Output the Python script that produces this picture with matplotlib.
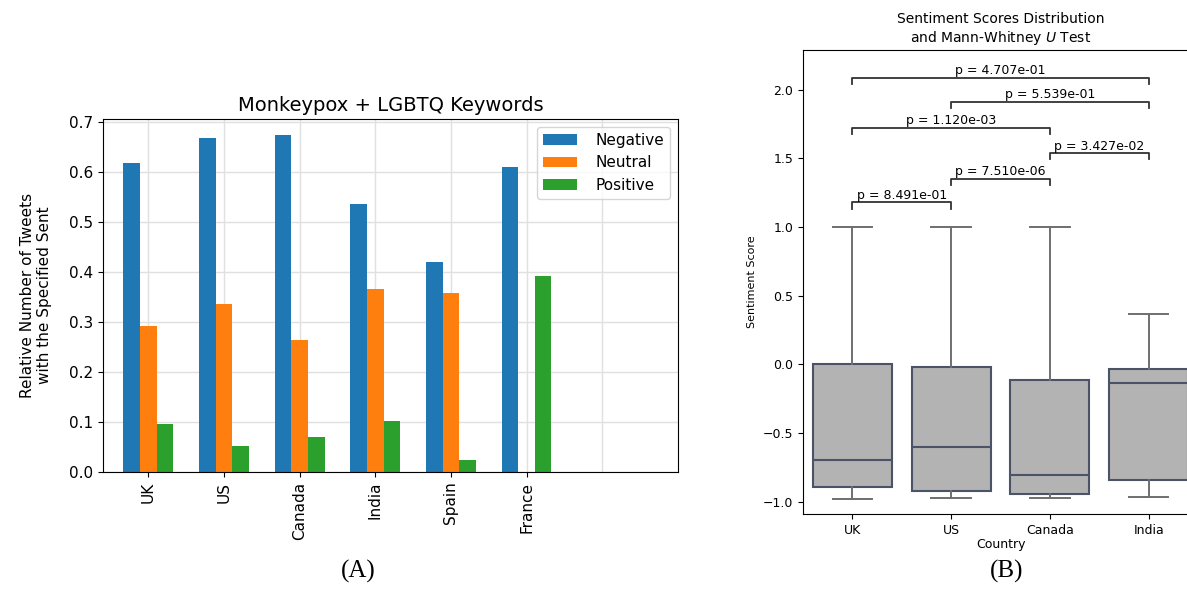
import matplotlib.pyplot as plt
import numpy as np

# panel A data
countries_a = ['UK', 'US', 'Canada', 'India', 'Spain', 'France']
negative = [0.618, 0.667, 0.673, 0.535, 0.419, 0.610]
neutral = [0.291, 0.335, 0.263, 0.366, 0.357, 0.0]
positive = [0.096, 0.052, 0.071, 0.102, 0.025, 0.392]

# panel B data (box stats)
countries_b = ['UK', 'US', 'Canada', 'India']
whislo = [-0.984, -0.977, -0.977, -0.967]
q1 = [-0.892, -0.919, -0.945, -0.841]
med = [-0.697, -0.605, -0.804, -0.139]
q3 = [0.0, -0.022, -0.114, -0.036]
whishi = [1.0, 1.0, 1.0, 0.365]

# Mann-Whitney pairs: (i, j, bracket height, label)
pairs = [(0, 1, 1.18, 'p = 8.491e-01'),
         (1, 2, 1.35, 'p = 7.510e-06'),
         (2, 3, 1.538, 'p = 3.427e-02'),
         (0, 2, 1.725, 'p = 1.120e-03'),
         (1, 3, 1.91, 'p = 5.539e-01'),
         (0, 3, 2.085, 'p = 4.707e-01')]

fig = plt.figure(figsize=(11.87, 5.92), dpi=100)

# ---- (A) grouped bars
ax1 = fig.add_axes([0.0868, 0.2027, 0.4842, 0.5963])
x = np.arange(len(countries_a))
w = 0.22
ax1.bar(x - w, negative, w, label='Negative', color='#1f77b4')
ax1.bar(x, neutral, w, label='Neutral', color='#ff7f0e')
ax1.bar(x + w, positive, w, label='Positive', color='#2ca02c')
ax1.set_xticks(x)
ax1.set_xticklabels(countries_a, rotation=90, fontsize=11)
ax1.tick_params(axis='y', labelsize=11)
ax1.set_xlim(-0.6, 7.0)
ax1.set_ylim(0, 0.706)
ax1.set_yticks(np.arange(0, 0.71, 0.1))
ax1.grid(True, color='#e0e0e0', linewidth=1)
ax1.axvline(len(countries_a), color='#e0e0e0', linewidth=1, zorder=0)
ax1.set_axisbelow(True)
ax1.set_title('Monkeypox + LGBTQ Keywords', fontsize=14)
ax1.set_ylabel('Relative Number of Tweets\nwith the Specified Sent', fontsize=11,
               labelpad=12)
ax1.legend(fontsize=11, loc='upper right', handlelength=2.2, handletextpad=1.2)

# ---- (B) boxplot with brackets
ax2 = fig.add_axes([0.6765, 0.1318, 0.3328, 0.7837])
stats = []
for i, c in enumerate(countries_b):
    stats.append(dict(label=c, whislo=whislo[i], q1=q1[i], med=med[i],
                      q3=q3[i], whishi=whishi[i], fliers=[]))
edge = '#4b5368'
ax2.bxp(stats, positions=np.arange(len(countries_b)), widths=0.8,
        patch_artist=True, showfliers=False,
        boxprops=dict(facecolor='#b3b3b3', edgecolor=edge, linewidth=1.5),
        medianprops=dict(color=edge, linewidth=1.5),
        whiskerprops=dict(color='#6f6f6f', linewidth=1.4),
        capprops=dict(color='#6f6f6f', linewidth=1.4))
ax2.set_xlim(-0.5, 3.5)
ax2.set_ylim(-1.09, 2.29)
ax2.set_yticks([-1.0, -0.5, 0.0, 0.5, 1.0, 1.5, 2.0])
ax2.set_yticklabels(['\u22121.0', '\u22120.5', '0.0', '0.5', '1.0', '1.5', '2.0'])
ax2.tick_params(labelsize=9)
ax2.set_xlabel('Country', fontsize=9, labelpad=1)
ax2.set_ylabel('Sentiment Score', fontsize=8)
ax2.set_title('Sentiment Scores Distribution\nand Mann-Whitney $U$ Test', fontsize=10)

drop = 0.045
for i, j, h, lab in pairs:
    ax2.plot([i, i, j, j], [h - drop, h, h, h - drop], color='#333333', lw=1.3)
    ax2.text((i + j) / 2, h + 0.005, lab, ha='center', va='bottom', fontsize=9)

fig.text(0.302, 0.025, '(A)', fontsize=18, family='Liberation Serif', ha='center')
fig.text(0.848, 0.025, '(B)', fontsize=18, family='Liberation Serif', ha='center')

fig.savefig('out.png', dpi=100)
